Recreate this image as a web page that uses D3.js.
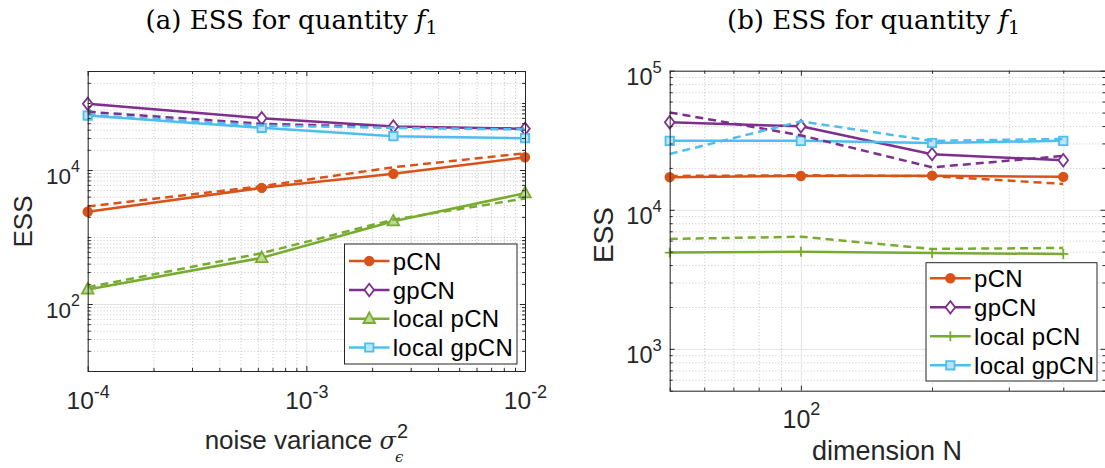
<!DOCTYPE html>
<html><head><meta charset="utf-8">
<script src="https://cdn.jsdelivr.net/npm/d3@7"></script>
<style>body{margin:0;background:#fff;} svg{display:block;}</style>
</head><body><svg id="chart" width="1105" height="468"></svg>
<script>
// ---------------- data ----------------
const noiseVariance = [1e-4, 6.25e-4, 2.5e-3, 1e-2];
const dimensionN = [50, 100, 200, 400];
const seriesNames = ["pCN", "gpCN", "local pCN", "local gpCN"];

// panel (a): ESS vs noise variance (solid = one run, dashed = other)
const essA_pCN = [2380, 5420, 8780, 15500];
const essA_pCN_dashed = [2850, 5730, 11000, 17800];
const essA_gpCN = [97300, 59300, 44600, 41200];
const essA_gpCN_dashed = [74000, 49000, 43300, 41300];
const essA_localpCN = [165, 489, 1720, 4510];
const essA_localpCN_dashed = [178, 573, 1820, 3750];
const essA_localgpCN = [65000, 42700, 32000, 29900];
const essA_localgpCN_dashed = [66700, 46100, 42500, 40300];

// panel (b): ESS vs dimension N
const essB_pCN = [17150, 17500, 17600, 17240];
const essB_pCN_dashed = [17500, 17700, 17440, 15350];
const essB_gpCN = [42600, 39800, 25100, 22700];
const essB_gpCN_dashed = [50100, 34300, 20200, 24400];
const essB_localpCN = [4920, 4980, 4890, 4810];
const essB_localpCN_dashed = [6170, 6400, 5230, 5310];
const essB_localgpCN = [31300, 31300, 30200, 31300];
const essB_localgpCN_dashed = [25200, 43200, 31300, 32300];

// tick labels (powers of ten)
const xTickExpA = [-4, -3, -2];
const yTickExpA = [2, 4];
const xTickExpB = [2];
const yTickExpB = [3, 4, 5];

// ---------------- styling ----------------
const colors = {"pCN": "#D95319", "gpCN": "#7E2F8E", "local pCN": "#77AC30", "local gpCN": "#4DBEEE"};
const SANS = "'Liberation Sans', Arial, Helvetica, sans-serif";
const SERIF = "'DejaVu Serif', serif";
const INK = "#262626";

const markerPaths = {
  circle: "M4.3,0A4.3,4.3 0 1,1 -4.3,0A4.3,4.3 0 1,1 4.3,0Z",
  diamond: "M0,-6.2L4.8,0L0,6.2L-4.8,0Z",
  triangle: "M0,-6.4L5.8,4.2L-5.8,4.2Z",
  square: "M-4.2,-4.2H4.2V4.2H-4.2Z",
  plus: "M-5,0H5M0,-5V5"
};
const markerFill = {
  circle: c => c, diamond: c => "#ffffff", triangle: c => "#bcd99a",
  square: c => "#b8e5f8", plus: c => "none"
};

const svg = d3.select("#chart");

function logMinor(domain, majors) {
  const out = [];
  const lo = Math.floor(Math.log10(domain[0])), hi = Math.ceil(Math.log10(domain[1]));
  for (let n = lo; n <= hi; n++) for (let k = 1; k <= 9; k++) {
    const v = k * Math.pow(10, n);
    if (v >= domain[0] * 0.9999 && v <= domain[1] * 1.0001 &&
        !majors.some(m => Math.abs(m - v) / v < 1e-6)) out.push(v);
  }
  return out;
}

function supLabel(sel, exp, baseSize, supSize, supDy) {
  sel.text(null);
  sel.append("tspan").attr("font-size", baseSize).text("10");
  sel.append("tspan").attr("font-size", supSize).attr("dy", supDy).text(String(exp));
}

function drawPanel(cfg) {
  const g = svg.append("g");
  const x = d3.scaleLog().domain(cfg.xDomain).range([cfg.left, cfg.right]);
  const y = d3.scaleLog().domain(cfg.yDomain).range([cfg.bottom, cfg.top]);
  const W = cfg.right - cfg.left, H = cfg.bottom - cfg.top;
  const xMajor = cfg.xTickExp.map(e => Math.pow(10, e));
  const yMajor = cfg.yTickExp.map(e => Math.pow(10, e));
  const xMinor = logMinor(cfg.xDomain, xMajor);
  const yMinor = logMinor(cfg.yDomain, yMajor);

  // minor grid (dotted)
  g.append("g").attr("transform", `translate(0,${cfg.bottom})`)
    .call(d3.axisBottom(x).tickValues(xMinor).tickSize(-H).tickFormat(""))
    .call(s => { s.select(".domain").remove(); s.selectAll("line").attr("stroke", "#c4c4c4").attr("stroke-dasharray", "1,2.2"); });
  g.append("g").attr("transform", `translate(${cfg.left},0)`)
    .call(d3.axisLeft(y).tickValues(yMinor).tickSize(-W).tickFormat(""))
    .call(s => { s.select(".domain").remove(); s.selectAll("line").attr("stroke", "#c4c4c4").attr("stroke-dasharray", "1,2.2"); });
  // major grid (solid, light)
  g.append("g").attr("transform", `translate(0,${cfg.bottom})`)
    .call(d3.axisBottom(x).tickValues(xMajor).tickSize(-H).tickFormat(""))
    .call(s => { s.select(".domain").remove(); s.selectAll("line").attr("stroke", "#e3e3e3"); });
  g.append("g").attr("transform", `translate(${cfg.left},0)`)
    .call(d3.axisLeft(y).tickValues(yMajor).tickSize(-W).tickFormat(""))
    .call(s => { s.select(".domain").remove(); s.selectAll("line").attr("stroke", "#e3e3e3"); });

  // lines
  const line = d3.line().x(d => x(d[0])).y(d => y(d[1]));
  cfg.series.forEach(s => {
    const pts = cfg.xs.map((v, i) => [v, s.solid[i]]);
    g.append("path").attr("d", line(pts)).attr("fill", "none")
      .attr("stroke", colors[s.name]).attr("stroke-width", 2.5).attr("stroke-linejoin", "round");
    g.selectAll(null).data(pts).enter().append("path")
      .attr("transform", d => `translate(${x(d[0])},${y(d[1])})`)
      .attr("d", markerPaths[s.marker])
      .attr("fill", markerFill[s.marker](colors[s.name]))
      .attr("stroke", colors[s.name]).attr("stroke-width", 1.8);
  });
  cfg.series.forEach(s => {
    const pts = cfg.xs.map((v, i) => [v, s.dashed[i]]);
    g.append("path").attr("d", line(pts)).attr("fill", "none")
      .attr("stroke", colors[s.name]).attr("stroke-width", 2.5).attr("stroke-dasharray", "8,5");
  });

  // axes box with inward ticks on all sides
  const tickStyle = s => { s.selectAll("line").attr("stroke", INK); s.select(".domain").attr("stroke", INK); };
  const bottomAx = g.append("g").attr("transform", `translate(0,${cfg.bottom})`)
    .call(d3.axisBottom(x).tickValues(xMajor).tickSizeInner(-5).tickSizeOuter(0))
    .call(tickStyle);
  g.append("g").attr("transform", `translate(0,${cfg.bottom})`)
    .call(d3.axisBottom(x).tickValues(xMinor).tickSizeInner(-3).tickSizeOuter(0).tickFormat(""))
    .call(s => { s.select(".domain").remove(); s.selectAll("line").attr("stroke", INK); });
  g.append("g").attr("transform", `translate(0,${cfg.top})`)
    .call(d3.axisTop(x).tickValues(xMajor).tickSizeInner(-5).tickSizeOuter(0).tickFormat(""))
    .call(tickStyle);
  g.append("g").attr("transform", `translate(0,${cfg.top})`)
    .call(d3.axisTop(x).tickValues(xMinor).tickSizeInner(-3).tickSizeOuter(0).tickFormat(""))
    .call(s => { s.select(".domain").remove(); s.selectAll("line").attr("stroke", INK); });
  const leftAx = g.append("g").attr("transform", `translate(${cfg.left},0)`)
    .call(d3.axisLeft(y).tickValues(yMajor).tickSizeInner(-5).tickSizeOuter(0))
    .call(tickStyle);
  g.append("g").attr("transform", `translate(${cfg.left},0)`)
    .call(d3.axisLeft(y).tickValues(yMinor).tickSizeInner(-3).tickSizeOuter(0).tickFormat(""))
    .call(s => { s.select(".domain").remove(); s.selectAll("line").attr("stroke", INK); });
  g.append("g").attr("transform", `translate(${cfg.right},0)`)
    .call(d3.axisRight(y).tickValues(yMajor).tickSizeInner(-5).tickSizeOuter(0).tickFormat(""))
    .call(tickStyle);
  g.append("g").attr("transform", `translate(${cfg.right},0)`)
    .call(d3.axisRight(y).tickValues(yMinor).tickSizeInner(-3).tickSizeOuter(0).tickFormat(""))
    .call(s => { s.select(".domain").remove(); s.selectAll("line").attr("stroke", INK); });

  // tick labels
  bottomAx.selectAll(".tick text").each(function(d) {
    const t = d3.select(this).attr("y", cfg.xLab.base).attr("dy", 0)
      .attr("fill", INK).attr("font-family", SANS).attr("text-anchor", "middle");
    supLabel(t, Math.round(Math.log10(d)), cfg.xLab.size, cfg.xLab.sup, cfg.xLab.supDy);
  });
  leftAx.selectAll(".tick text").each(function(d) {
    const t = d3.select(this).attr("x", -cfg.yLab.gap).attr("y", cfg.yLab.base).attr("dy", 0)
      .attr("fill", INK).attr("font-family", SANS).attr("text-anchor", "end");
    supLabel(t, Math.round(Math.log10(d)), cfg.yLab.size, cfg.yLab.sup, cfg.yLab.supDy);
  });

  // y label
  g.append("text").attr("transform", `translate(${cfg.yTitle.x},${cfg.yTitle.y}) rotate(-90)`)
    .attr("text-anchor", "middle").attr("font-family", SANS).attr("font-size", cfg.yTitle.size)
    .attr("fill", INK).text("ESS");

  // title
  const tt = g.append("text").attr("x", cfg.title.x).attr("y", cfg.title.y)
    .attr("text-anchor", "middle").attr("font-family", SERIF).attr("font-size", cfg.title.size).attr("fill", "#000");
  tt.append("tspan").text(cfg.title.text + " ");
  tt.append("tspan").attr("font-style", "italic").text("f");
  tt.append("tspan").attr("font-size", cfg.title.size * 0.72).attr("dy", 5).text("1");

  // legend
  const L = cfg.legend;
  const lg = g.append("g");
  lg.append("rect").attr("x", L.x0).attr("y", L.y0).attr("width", L.x1 - L.x0).attr("height", L.y1 - L.y0)
    .attr("fill", "#fff").attr("stroke", INK).attr("stroke-width", 1);
  cfg.series.forEach((s, i) => {
    const ry = L.rows[i];
    lg.append("line").attr("x1", L.lx0).attr("x2", L.lx1).attr("y1", ry).attr("y2", ry)
      .attr("stroke", colors[s.name]).attr("stroke-width", 2.5);
    lg.append("path").attr("transform", `translate(${(L.lx0 + L.lx1) / 2},${ry})`)
      .attr("d", markerPaths[s.marker]).attr("fill", markerFill[s.marker](colors[s.name]))
      .attr("stroke", colors[s.name]).attr("stroke-width", 1.8);
    lg.append("text").attr("x", L.tx).attr("y", ry + L.dy).attr("font-family", SANS)
      .attr("font-size", L.size).attr("letter-spacing", L.ls).attr("fill", "#000").text(s.name);
  });
  return g;
}

// ---------------- panel (a) ----------------
const gA = drawPanel({
  left: 87.7, right: 525, top: 71, bottom: 371,
  xDomain: [1e-4, 1e-2], yDomain: [10, Math.pow(10, 5.478)],
  xTickExp: xTickExpA, yTickExp: yTickExpA, xs: noiseVariance,
  series: [
    {name: seriesNames[0], marker: "circle", solid: essA_pCN, dashed: essA_pCN_dashed},
    {name: seriesNames[1], marker: "diamond", solid: essA_gpCN, dashed: essA_gpCN_dashed},
    {name: seriesNames[2], marker: "triangle", solid: essA_localpCN, dashed: essA_localpCN_dashed},
    {name: seriesNames[3], marker: "square", solid: essA_localgpCN, dashed: essA_localgpCN_dashed}
  ],
  xLab: {base: 38.3, size: 24.5, sup: 18, supDy: -11},
  yLab: {gap: 7.7, base: 13.3, size: 22.5, sup: 16, supDy: -11.6},
  yTitle: {x: 31.7, y: 221.5, size: 26},
  title: {x: 291.5, y: 28.5, size: 26, text: "(a) ESS for quantity"},
  legend: {x0: 344.5, y0: 244, x1: 517, y1: 364, rows: [261, 290, 318.8, 347.5],
           lx0: 349, lx1: 389.5, tx: 392.7, dy: 8.5, size: 24, ls: 0.3}
});

// x label (a) with sigma_epsilon^2
(function() {
  const base = 449.3, cx = 306.3;
  const t = gA.append("text").attr("y", base).attr("font-family", SANS).attr("font-size", 26).attr("fill", INK);
  t.append("tspan").text("noise variance ");
  t.append("tspan").attr("font-family", SERIF).attr("font-style", "italic").attr("font-size", 24).text("σ");
  const w = t.node().getComputedTextLength();
  const supW = 12;
  const x0 = cx - (w + supW) / 2;
  t.attr("x", x0);
  gA.append("text").attr("x", x0 + w + 1).attr("y", base - 11).attr("font-family", SANS)
    .attr("font-size", 20).attr("fill", INK).text("2");
  gA.append("text").attr("x", x0 + w - 1).attr("y", base + 12.4).attr("font-family", SERIF)
    .attr("font-style", "italic").attr("font-size", 15).attr("fill", INK).text("ϵ");
})();

// ---------------- panel (b) ----------------
const gB = drawPanel({
  left: 669.7, right: 1105.5, top: 70.7, bottom: 390.7,
  xDomain: [50, 500], yDomain: [500, 1e5],
  xTickExp: xTickExpB, yTickExp: yTickExpB, xs: dimensionN,
  series: [
    {name: seriesNames[0], marker: "circle", solid: essB_pCN, dashed: essB_pCN_dashed},
    {name: seriesNames[1], marker: "diamond", solid: essB_gpCN, dashed: essB_gpCN_dashed},
    {name: seriesNames[2], marker: "plus", solid: essB_localpCN, dashed: essB_localpCN_dashed},
    {name: seriesNames[3], marker: "square", solid: essB_localgpCN, dashed: essB_localgpCN_dashed}
  ],
  xLab: {base: 37.6, size: 25, sup: 18, supDy: -13.3},
  yLab: {gap: 8, base: 13.3, size: 23.5, sup: 16.5, supDy: -11.5},
  yTitle: {x: 613.3, y: 235, size: 28},
  title: {x: 873.5, y: 28.5, size: 26, text: "(b) ESS for quantity"},
  legend: {x0: 926, y0: 262.7, x1: 1097, y1: 381, rows: [278.3, 307.3, 336.3, 365.3],
           lx0: 930, lx1: 970.7, tx: 974, dy: 8.5, size: 24, ls: 0.3}
});
gB.append("text").attr("x", 887).attr("y", 460).attr("text-anchor", "middle")
  .attr("font-family", SANS).attr("font-size", 27).attr("fill", INK).text("dimension N");
</script></body></html>
